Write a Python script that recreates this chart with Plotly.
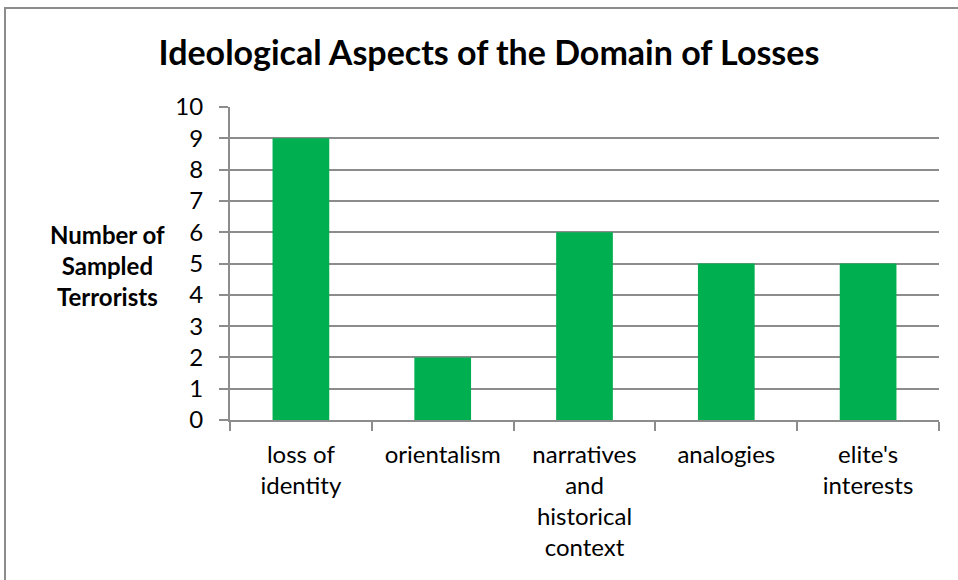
import plotly.graph_objects as go

categories = ["loss of<br>identity", "orientalism", "narratives<br>and<br>historical<br>context", "analogies", "elite's<br>interests"]
values = [9, 2, 6, 5, 5]
y_ticks = list(range(0, 11))

FONT = "Lato, 'Open Sans', sans-serif"
W, H = 958, 580
L, R, T, B = 230, 19, 107, 160
pw = W - L - R
ph = H - T - B

fig = go.Figure(go.Bar(x=categories, y=values, marker_color="#00B050", marker_line_width=0))

fig.update_layout(
    width=W, height=H,
    margin=dict(l=L, r=R, t=T, b=B),
    paper_bgcolor="white", plot_bgcolor="white",
    bargap=0.6,
    font=dict(family=FONT, color="black", size=24),
    title=dict(text="<b>Ideological Aspects of the Domain of Losses</b>", x=489 / W, xanchor="center",
               y=1 - 53 / H, yanchor="middle", font=dict(size=34, family=FONT)),
    showlegend=False,
)
fig.update_xaxes(showline=True, linecolor="#8c8c8c", linewidth=2, ticks="outside", tickson="boundaries",
                 ticklen=9, tickcolor="#8c8c8c", tickwidth=2, showgrid=False, tickfont=dict(size=24),
                 ticklabelstandoff=12)
fig.update_yaxes(range=[0, 10], tickvals=y_ticks, showline=True, linecolor="#8c8c8c", linewidth=2,
                 ticks="outside", ticklen=9, tickcolor="#8c8c8c", tickwidth=2,
                 showgrid=True, gridcolor="#8c8c8c", gridwidth=2, zeroline=False,
                 tickfont=dict(size=24), ticklabelstandoff=11)

fig.add_annotation(text="<b>Number of<br>Sampled<br>Terrorists</b>", xref="paper", yref="paper",
                   x=(107 - L) / pw, y=(H - B - 265) / ph, xanchor="center", yanchor="middle",
                   showarrow=False, font=dict(size=24, family=FONT), align="center")

# outer chart frame
fig.add_shape(type="rect", xref="paper", yref="paper",
              x0=(5 - L) / pw, x1=(W + 20 - L) / pw,
              y0=(H - B - (H + 20)) / ph, y1=(H - B - 8) / ph,
              line=dict(color="#8c8c8c", width=2), fillcolor="rgba(0,0,0,0)", layer="below")

fig.write_html("out.html", config={"displayModeBar": False},
               post_script="document.body.style.margin='0';")
